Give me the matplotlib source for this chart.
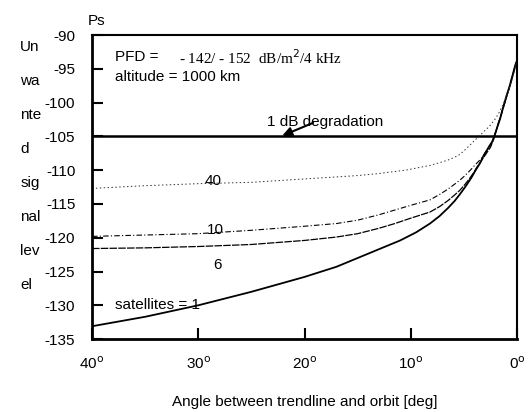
import numpy as np
import matplotlib.pyplot as plt

plt.rcParams['font.family'] = ['Liberation Sans', 'DejaVu Sans']

# readings from the chart: angle [deg] -> unwanted signal level Ps [dB]
ang_1 = [40, 35, 30, 25, 20, 17, 15, 13, 11.0, 9.5, 8.2, 7.3, 6.5, 5.9, 5.4, 4.8, 4.3, 3.9, 3.5,
         3.2, 2.9, 2.6, 2.35, 2.1, 1.9, 1.6, 1.4, 1.2, 1.0, 0.75, 0.55, 0.3, 0.1]
ps_1 = [-133.1, -131.7, -130.0, -128.0, -125.8, -124.3, -123.0, -121.7, -120.4, -119.2, -117.9,
        -116.8, -115.6, -114.6, -113.6, -112.3, -111.1, -110.0, -109.0, -108.0, -107.2, -106.4,
        -105.8, -104.8, -103.8, -102.4, -101.2, -100.1, -99.0, -97.8, -96.7, -95.2, -94.1]

ang_6 = [40, 35, 30, 25, 20, 17, 15, 13, 11.5, 10, 8.2, 7.3, 6.5, 5.9, 5.4, 4.9, 4.5, 4.1, 3.8,
         3.4, 3.1, 2.8, 2.5, 2.2, 2.0, 1.75, 1.5, 1.25, 1.0, 0.75, 0.55, 0.3, 0.1]
ps_6 = [-121.6, -121.5, -121.3, -121.0, -120.4, -119.9, -119.4, -118.6, -117.9, -117.1, -116.2,
        -115.4, -114.5, -113.7, -113.0, -112.1, -111.3, -110.4, -109.6, -108.7, -108.0, -107.3,
        -106.6, -105.4, -104.3, -103.0, -101.8, -100.5, -99.2, -97.9, -96.7, -95.3, -94.1]

ang_10 = [40, 35, 30, 25, 20, 17, 15, 13, 11.5, 10, 8.2, 7.3, 6.5, 5.9, 5.4, 4.9, 4.4, 4.0, 3.5,
          3.2, 3.0, 2.75, 2.5, 2.2, 2.0, 1.75, 1.5, 1.25, 1.0, 0.75, 0.55, 0.3, 0.1]
ps_10 = [-119.8, -119.6, -119.4, -118.9, -118.3, -117.9, -117.4, -116.6, -115.9, -115.2, -114.4,
         -113.6, -112.8, -112.1, -111.5, -110.8, -110.0, -109.3, -108.5, -107.9, -107.4, -106.8,
         -106.3, -105.2, -104.2, -103.0, -101.8, -100.5, -99.2, -97.9, -96.7, -95.3, -94.1]

ang_40 = [40, 35, 30, 25, 20, 15, 13, 10.5, 8.2, 7.3, 6.5, 5.9, 5.4, 4.7, 4.0, 3.6, 3.2, 2.8, 2.5,
          2.0, 1.6, 1.25, 0.9, 0.6, 0.4, 0.2, 0.05]
ps_40 = [-112.7, -112.3, -112.0, -111.8, -111.3, -110.8, -110.5, -110.0, -109.3, -108.9, -108.5,
         -108.1, -107.7, -106.7, -105.6, -105.0, -104.4, -103.8, -103.3, -102.3, -101.2, -100.0,
         -98.6, -97.3, -96.2, -95.0, -93.7]

degradation = -105
x_ticks = [40, 30, 20, 10, 0]
x_labels = ['40$^{\\mathrm{o}}$', '30$^{\\mathrm{o}}$', '20$^{\\mathrm{o}}$', '10$^{\\mathrm{o}}$', '0$^{\\mathrm{o}}$']
y_ticks = [-90, -95, -100, -105, -110, -115, -120, -125, -130, -135]
ylabel_parts = ['Un', 'wa', 'nte', 'd', 'sig', 'nal', 'lev', 'el']

fs = 11

fig = plt.figure(figsize=(5.32, 4.12), dpi=100)
ax = fig.add_axes([0.173, 0.177, 0.799, 0.738])

ax.plot(ang_1, ps_1, color='black', lw=1.3)
ax.plot(ang_6, ps_6, color='black', lw=0.9, linestyle=(0, (6, 1)))
ax.plot(ang_10, ps_10, color='black', lw=0.8, linestyle=(0, (5, 2, 1, 2)))
ax.plot(ang_40, ps_40, color='#333333', lw=0.7, linestyle=(0, (1.5, 2.5)))
ax.axhline(degradation, color='black', lw=1.8)

ax.set_xlim(40, 0)
ax.set_ylim(-135, -90)
ax.set_xticks(x_ticks)
ax.set_xticklabels(x_labels, fontsize=fs)
ax.set_yticks(y_ticks)
ax.set_yticklabels([str(v) for v in y_ticks], fontsize=fs)
ax.tick_params(direction='in', length=8, width=1.5)
ax.tick_params(axis='x', pad=12)
ax.tick_params(axis='y', pad=12)
for side in ['left', 'bottom']:
    ax.spines[side].set_linewidth(2)
for side in ['right', 'top']:
    ax.spines[side].set_linewidth(1.5)

ax.text(37.8, -93.3, 'PFD =', fontsize=fs, va='center')
ax.text(31.8, -93.3, '- 142/ - 152  dB/m$^2$/4 kHz', fontsize=fs, va='center',
        family=['Liberation Serif', 'DejaVu Serif'])
ax.text(37.8, -96.2, 'altitude = 1000 km', fontsize=fs, va='center')
ax.text(23.5, -102.8, '1 dB degradation', fontsize=fs, va='center')
ax.annotate('', xy=(22.1, -104.9), xytext=(19.2, -103.0),
            arrowprops=dict(arrowstyle='-|>', color='black', lw=1.5,
                            shrinkA=0, shrinkB=0, mutation_scale=14))
ax.text(29.4, -111.6, '40', fontsize=fs, va='center')
ax.text(29.2, -118.9, '10', fontsize=fs, va='center')
ax.text(28.6, -124.0, '6', fontsize=fs, va='center')
ax.text(37.8, -130.0, 'satellites = 1', fontsize=fs, va='center')

fig.text(0.165, 0.95, 'Ps', fontsize=fs, va='center')
for i, part in enumerate(ylabel_parts):
    fig.text(0.038, 0.886 - i * 0.0825, part, fontsize=fs, va='center')
ax.set_xlabel('Angle between trendline and orbit [deg]', fontsize=fs, labelpad=16)

fig.savefig('out.png', dpi=100)
